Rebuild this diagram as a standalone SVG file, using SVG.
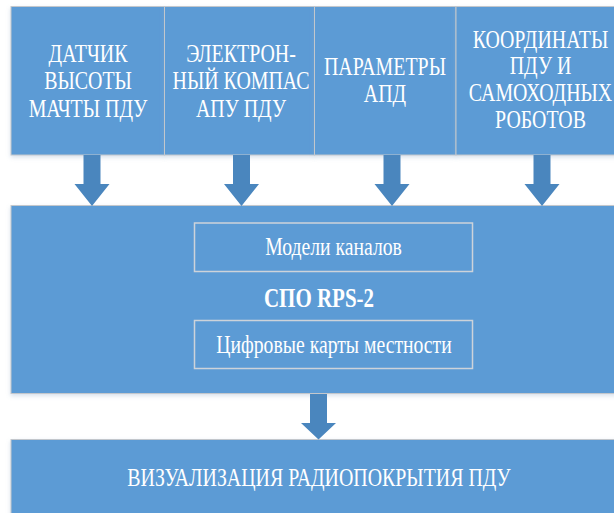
<svg xmlns="http://www.w3.org/2000/svg" width="614" height="513" viewBox="0 0 614 513">
  <style>
    .box { fill: #5B9BD5; stroke: #C3C7CC; stroke-width: 1; }
    .inner { fill: none; stroke: #CDD3DA; stroke-width: 1.5; }
    .t { font-family: "Liberation Serif", "Times New Roman", serif; font-size: 19.9px; fill: #FFFFFF; text-anchor: middle; }
    .s { font-size: 19.7px; }
    .b { font-weight: bold; font-size: 21px; }
    .arrow { fill: #4A86BE; }
  </style>
  <defs>
    <filter id="sh" x="-10%" y="-10%" width="120%" height="130%">
      <feDropShadow dx="0" dy="2" stdDeviation="2" flood-color="#8FA9C9" flood-opacity="0.35"/>
    </filter>
    <path id="arr" d="M-8.5,0 H8.5 V29 H17.5 L0,51 L-17.5,29 H-8.5 Z"/>
  </defs>

  <g id="node-datchik">
    <rect class="box" x="11" y="6.5" width="153.5" height="148.5" filter="url(#sh)"/>
    <text class="t" transform="translate(88,61.5) scale(1,1.3)">ДАТЧИК</text>
    <text class="t" transform="translate(88,88.5) scale(1,1.3)">ВЫСОТЫ</text>
    <text class="t" transform="translate(88,116.5) scale(1,1.3)">МАЧТЫ ПДУ</text>
  </g>
  <g id="node-kompas">
    <rect class="box" x="164.5" y="6.5" width="150" height="148.5" filter="url(#sh)"/>
    <text class="t" transform="translate(241,61.5) scale(1,1.3)">ЭЛЕКТРОН-</text>
    <text class="t" transform="translate(241,88.5) scale(1,1.3)">НЫЙ КОМПАС</text>
    <text class="t" transform="translate(241,116.5) scale(1,1.3)">АПУ ПДУ</text>
  </g>
  <g id="node-apd">
    <rect class="box" x="314.5" y="6.5" width="141.5" height="148.5" filter="url(#sh)"/>
    <text class="t" transform="translate(385,75) scale(1,1.3)">ПАРАМЕТРЫ</text>
    <text class="t" transform="translate(385,101.5) scale(1,1.3)">АПД</text>
  </g>
  <g id="node-coord">
    <rect class="box" x="456" y="6.5" width="170" height="148.5" filter="url(#sh)"/>
    <text class="t" transform="translate(540.5,47.5) scale(1,1.3)">КООРДИНАТЫ</text>
    <text class="t" transform="translate(540.5,74) scale(1,1.3)">ПДУ И</text>
    <text class="t" transform="translate(540.5,100.5) scale(1,1.3)">САМОХОДНЫХ</text>
    <text class="t" transform="translate(540.5,128) scale(1,1.3)">РОБОТОВ</text>
  </g>

  <g id="node-spo">
    <rect class="box" x="11" y="205.5" width="615" height="188" filter="url(#sh)"/>
    <text class="t b" transform="translate(319,307) scale(1,1.3)">СПО RPS-2</text>
    <g id="node-models">
      <rect class="inner" x="194.5" y="223" width="278" height="48.5"/>
      <text class="t s" transform="translate(333.5,255) scale(1,1.3)">Модели каналов</text>
    </g>
    <g id="node-maps">
      <rect class="inner" x="194.5" y="320.5" width="278" height="48"/>
      <text class="t s" transform="translate(334,352.5) scale(1,1.3)">Цифровые карты местности</text>
    </g>
  </g>

  <g id="node-vis">
    <rect class="box" x="11" y="439.5" width="615" height="80" filter="url(#sh)"/>
    <text class="t" transform="translate(319,486) scale(1,1.3)">ВИЗУАЛИЗАЦИЯ РАДИОПОКРЫТИЯ ПДУ</text>
  </g>

  <g id="connectors" class="arrow">
    <use href="#arr" transform="translate(92,155)"/>
    <use href="#arr" transform="translate(241.5,155)"/>
    <use href="#arr" transform="translate(392,155)"/>
    <use href="#arr" transform="translate(542,155)"/>
    <path d="M310,394 H327 V423 H336 L318.5,439.5 L301,423 H310 Z"/>
  </g>
</svg>
